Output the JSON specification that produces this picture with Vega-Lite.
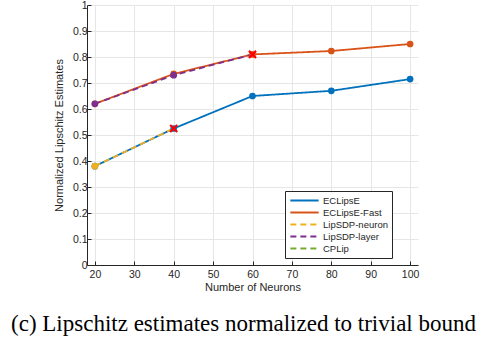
{
  "$schema": "https://vega.github.io/schema/vega-lite/v6.json",
  "width": 331,
  "height": 260,
  "autosize": "none",
  "padding": {"left": 87, "top": 5, "right": 64, "bottom": 79},
  "background": "white",
  "datasets": {
    "lines": [
      {"series": "ECLipsE", "n": 20, "v": 0.38},
      {"series": "ECLipsE", "n": 40, "v": 0.525},
      {"series": "ECLipsE", "n": 60, "v": 0.65},
      {"series": "ECLipsE", "n": 80, "v": 0.67},
      {"series": "ECLipsE", "n": 100, "v": 0.715},
      {"series": "ECLipsE-Fast", "n": 20, "v": 0.62},
      {"series": "ECLipsE-Fast", "n": 40, "v": 0.735},
      {"series": "ECLipsE-Fast", "n": 60, "v": 0.81},
      {"series": "ECLipsE-Fast", "n": 80, "v": 0.823},
      {"series": "ECLipsE-Fast", "n": 100, "v": 0.85},
      {"series": "LipSDP-neuron", "n": 20, "v": 0.38},
      {"series": "LipSDP-neuron", "n": 40, "v": 0.525},
      {"series": "LipSDP-layer", "n": 20, "v": 0.62},
      {"series": "LipSDP-layer", "n": 40, "v": 0.73},
      {"series": "LipSDP-layer", "n": 60, "v": 0.81}
    ],
    "points": [
      {"series": "ECLipsE", "n": 20, "v": 0.38},
      {"series": "ECLipsE", "n": 40, "v": 0.525},
      {"series": "ECLipsE", "n": 60, "v": 0.65},
      {"series": "ECLipsE", "n": 80, "v": 0.67},
      {"series": "ECLipsE", "n": 100, "v": 0.715},
      {"series": "ECLipsE-Fast", "n": 20, "v": 0.62},
      {"series": "ECLipsE-Fast", "n": 40, "v": 0.735},
      {"series": "ECLipsE-Fast", "n": 60, "v": 0.81},
      {"series": "ECLipsE-Fast", "n": 80, "v": 0.823},
      {"series": "ECLipsE-Fast", "n": 100, "v": 0.85},
      {"series": "LipSDP-neuron", "n": 20, "v": 0.38},
      {"series": "LipSDP-layer", "n": 20, "v": 0.62},
      {"series": "LipSDP-layer", "n": 40, "v": 0.73}
    ],
    "crosses": [
      {"n": 40, "v": 0.525},
      {"n": 60, "v": 0.81}
    ]
  },
  "title": {
    "text": "(c) Lipschitz estimates normalized to trivial bound",
    "orient": "bottom",
    "anchor": "middle",
    "font": "Liberation Serif",
    "fontSize": 23,
    "fontWeight": "normal",
    "color": "black",
    "offset": 20,
    "dx": -9
  },
  "config": {
    "view": {"stroke": null},
    "axis": {
      "labelFont": "Liberation Sans",
      "titleFont": "Liberation Sans",
      "labelFontSize": 10.5,
      "titleFontSize": 11,
      "titleFontWeight": "normal",
      "labelColor": "#262626",
      "titleColor": "#262626",
      "domainColor": "#262626",
      "tickColor": "#262626",
      "gridColor": "#e6e6e6",
      "gridOpacity": 1,
      "domainWidth": 1,
      "labelOverlap": false,
      "labelFlush": false
    }
  },
  "encoding": {
    "x": {
      "field": "n", "type": "quantitative",
      "scale": {"domain": [18, 102], "nice": false, "zero": false},
      "axis": {"values": [20, 30, 40, 50, 60, 70, 80, 90, 100], "labelOverlap": false, "title": "Number of Neurons", "tickSize": -4, "labelPadding": 8, "titlePadding": 2}
    },
    "y": {
      "field": "v", "type": "quantitative",
      "scale": {"domain": [0, 1], "nice": false},
      "axis": {"values": [0, 0.1, 0.2, 0.3, 0.4, 0.5, 0.6, 0.7, 0.8, 0.9, 1], "labelOverlap": false, "labelBound": false, "format": "~g", "title": "Normalized Lipschitz Estimates", "tickSize": -4, "labelPadding": 4, "titlePadding": 8}
    }
  },
  "layer": [
    {
      "data": {"name": "lines"},
      "mark": {"type": "line", "strokeWidth": 1.8},
      "encoding": {
        "color": {
          "field": "series", "type": "nominal",
          "scale": {
            "domain": ["ECLipsE", "ECLipsE-Fast", "LipSDP-neuron", "LipSDP-layer", "CPLip"],
            "range": ["#0072BD", "#D95319", "#EDB120", "#7E2F8E", "#77AC30"]
          },
          "legend": {
            "title": null,
            "orient": "none",
            "legendX": 198,
            "legendY": 186,
            "symbolType": "stroke",
            "symbolSize": 800,
            "symbolStrokeWidth": 2,
            "clipHeight": 11,
            "labelFont": "Liberation Sans",
            "labelFontSize": 9.5,
            "labelColor": "#262626",
            "labelOffset": 3,
            "rowPadding": 1,
            "fillColor": "white",
            "strokeColor": "#262626",
            "padding": 4
          }
        },
        "strokeDash": {
          "field": "series", "type": "nominal",
          "scale": {
            "domain": ["ECLipsE", "ECLipsE-Fast", "LipSDP-neuron", "LipSDP-layer", "CPLip"],
            "range": [[1, 0], [1, 0], [6, 4], [6, 4], [6, 4]]
          },
          "legend": null
        }
      }
    },
    {
      "data": {"name": "points"},
      "mark": {"type": "point", "shape": "circle", "filled": true, "opacity": 1, "size": 45},
      "encoding": {
        "color": {"field": "series", "type": "nominal", "legend": null}
      }
    },
    {
      "data": {"name": "crosses"},
      "mark": {"type": "point", "shape": "M-1,-1L1,1M-1,1L1,-1", "filled": false, "stroke": "#ff0000", "strokeWidth": 2.2, "size": 50, "opacity": 1},
      "encoding": {}
    }
  ]
}
